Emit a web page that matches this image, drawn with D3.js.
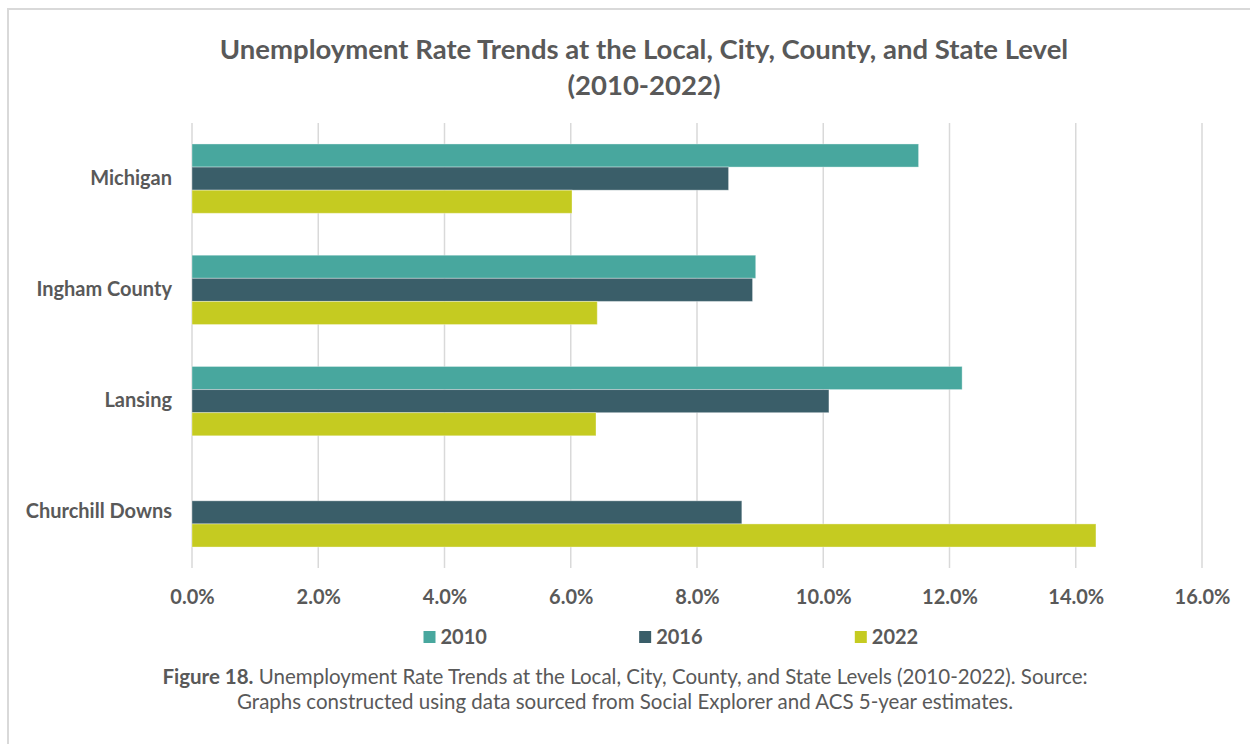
<!DOCTYPE html>
<html>
<head>
<meta charset="utf-8">
<script src="https://cdn.jsdelivr.net/npm/d3@7/dist/d3.min.js"></script>
<style>
  html, body { margin: 0; padding: 0; background: #ffffff; }
  svg { display: block; }
  text { font-family: Lato, "Open Sans", sans-serif; fill: #595959; }
</style>
</head>
<body>
<svg id="chart" width="1250" height="744"></svg>
<script>
// Unemployment rates (as fractions) by place and survey year
const places = ["Michigan", "Ingham County", "Lansing", "Churchill Downs"];
const years = ["2010", "2016", "2022"];
const rate2010 = [0.1151, 0.0893, 0.1220, null];
const rate2016 = [0.0850, 0.0888, 0.1009, 0.0871];
const rate2022 = [0.0602, 0.0642, 0.0640, 0.1432];
const xTicks = [0, 0.02, 0.04, 0.06, 0.08, 0.10, 0.12, 0.14, 0.16];
const yearColors = ["#48A79E", "#3A5E69", "#C5CB21"];

const titleLines = [
  "Unemployment Rate Trends at the Local, City, County, and State Level",
  "(2010-2022)"
];
const captionBold = "Figure 18.";
const captionRest = " Unemployment Rate Trends at the Local, City, County, and State Levels (2010-2022). Source:";
const captionLine2 = "Graphs constructed using data sourced from Social Explorer and ACS 5-year estimates.";

const seriesByYear = [rate2010, rate2016, rate2022];
const rows = places.map((p, i) => ({
  place: p,
  values: years.map((y, k) => ({ year: y, value: seriesByYear[k][i] }))
}));

const svg = d3.select("#chart");
const W = 1250, H = 744;
const plot = { left: 192, right: 1202, top: 123, bottom: 568 };

// Chart frame (only the top and left edges fall inside the view)
svg.append("path")
  .attr("d", `M8,${H + 2} L8,9 L${W + 2},9`)
  .attr("fill", "none")
  .attr("stroke", "#d9d9d9")
  .attr("stroke-width", 2);

const x = d3.scaleLinear().domain([0, 0.16]).range([plot.left, plot.right]);
const y = d3.scaleBand().domain(places).range([plot.top, plot.bottom])
  .paddingInner(0.377).paddingOuter(0.1885);
const yInner = d3.scaleBand().domain(years).range([0, y.bandwidth()]);
const color = d3.scaleOrdinal().domain(years).range(yearColors);

// Title
svg.append("text")
  .attr("x", 644).attr("y", 59)
  .attr("text-anchor", "middle")
  .attr("font-size", 27.5).attr("font-weight", 700)
  .text(titleLines[0]);
svg.append("text")
  .attr("x", 644).attr("y", 95)
  .attr("text-anchor", "middle")
  .attr("font-size", 27.5).attr("font-weight", 700)
  .text(titleLines[1]);

// Vertical gridlines
svg.append("g")
  .selectAll("line")
  .data(xTicks)
  .join("line")
  .attr("x1", d => x(d)).attr("x2", d => x(d))
  .attr("y1", plot.top).attr("y2", plot.bottom)
  .attr("stroke", "#d9d9d9")
  .attr("stroke-width", 1.5);

// Bottom axis labels
const xAxis = d3.axisBottom(x).tickValues(xTicks).tickFormat(d3.format(".1%")).tickSize(0).tickPadding(0);
const gx = svg.append("g").attr("transform", `translate(0,${plot.bottom})`).call(xAxis);
gx.select(".domain").remove();
gx.selectAll("text")
  .attr("y", 36).attr("dy", 0)
  .attr("font-size", 20).attr("font-weight", 700)
  .attr("fill", "#595959")
  .style("font-family", "Lato, sans-serif");

// Category labels
const yAxis = d3.axisLeft(y).tickSize(0).tickPadding(20);
const gy = svg.append("g").attr("transform", `translate(${plot.left},0)`).call(yAxis);
gy.select(".domain").remove();
gy.selectAll("text")
  .attr("dy", "0.3em")
  .attr("font-size", 20).attr("font-weight", 700)
  .attr("fill", "#595959")
  .style("font-family", "Lato, sans-serif");

// Bars
const groups = svg.append("g")
  .selectAll("g")
  .data(rows)
  .join("g")
  .attr("transform", d => `translate(0,${y(d.place)})`);

groups.selectAll("rect")
  .data(d => d.values.filter(v => v.value != null))
  .join("rect")
  .attr("x", x(0))
  .attr("y", d => yInner(d.year))
  .attr("width", d => x(d.value) - x(0))
  .attr("height", yInner.bandwidth())
  .attr("fill", d => color(d.year))
  .attr("stroke", "rgba(255,255,255,0.35)")
  .attr("stroke-width", 1);

// Legend
const legendX = d3.scalePoint().domain(years).range([423.5, 854.8]);
const legend = svg.append("g")
  .selectAll("g")
  .data(years)
  .join("g")
  .attr("transform", d => `translate(${legendX(d)},631)`);
legend.append("rect")
  .attr("width", 12).attr("height", 12)
  .attr("fill", d => color(d));
legend.append("text")
  .attr("x", 17).attr("y", 12.5)
  .attr("font-size", 20).attr("font-weight", 700)
  .text(d => d);

// Figure caption
const cap = svg.append("text")
  .attr("x", 625).attr("y", 684)
  .attr("text-anchor", "middle")
  .attr("font-size", 20.5);
cap.append("tspan").attr("font-weight", 700).text(captionBold);
cap.append("tspan").text(captionRest);
svg.append("text")
  .attr("x", 625).attr("y", 709)
  .attr("text-anchor", "middle")
  .attr("font-size", 20.5)
  .text(captionLine2);
</script>
</body>
</html>
